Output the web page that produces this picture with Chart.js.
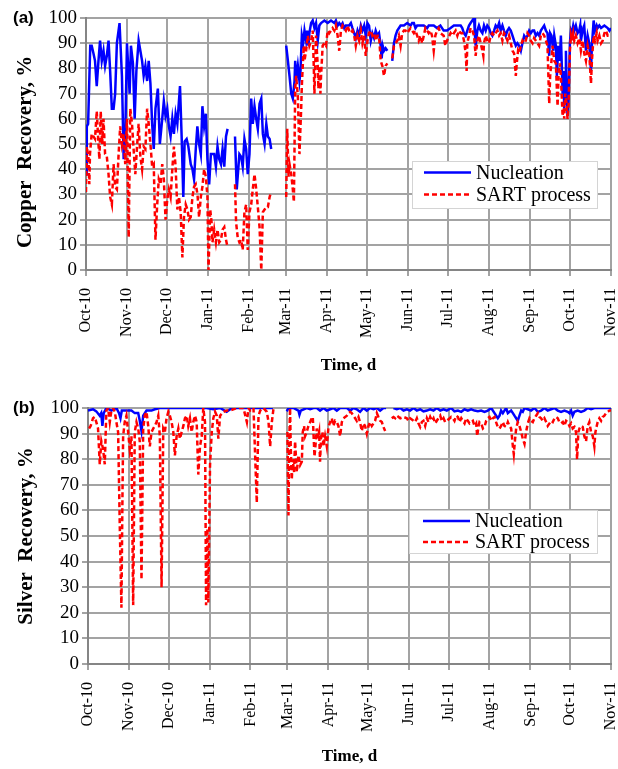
<!DOCTYPE html>
<html>
<head>
<meta charset="utf-8">
<title>Copper and silver recovery</title>
<script src="https://cdn.jsdelivr.net/npm/chart.js@4.4.1/dist/chart.umd.min.js"></script>
<style>
body { margin: 0; background: #fff; width: 618px; height: 769px; position: relative; overflow: hidden; }
.panel { position: absolute; left: 0; width: 618px; }
.tag { position: absolute; left: 13px; font: bold 17px "Liberation Sans", Arial, sans-serif; color: #000; }
</style>
</head>
<body>
<div class="panel" style="top:0;height:385px"><canvas id="chartCu" width="618" height="385"></canvas></div>
<div class="panel" style="top:385px;height:384px"><canvas id="chartAg" width="618" height="384"></canvas></div>
<div class="tag" style="top:8px">(a)</div>
<div class="tag" style="top:398px">(b)</div>
<script>
// month starts, counted in days from 1 Oct 2010
var monthDays = [0, 31, 61, 92, 123, 151, 182, 212, 243, 273, 304, 335, 365, 396];
var monthLabels = ["Oct-10", "Nov-10", "Dec-10", "Jan-11", "Feb-11", "Mar-11", "Apr-11",
	"May-11", "Jun-11", "Jul-11", "Aug-11", "Sep-11", "Oct-11", "Nov-11"];

// (a) copper - nucleation
var cuNucDay = [0, 0.6, 1.6, 3.2, 4.3, 5.6, 6.8, 8.1, 9.4, 10.6, 11.9, 13.2, 14.4, 15.7, 17, 18.2, 19.5, 20.8, 22, 23.3,
	25.3, 27.1, 28.4, 29.6, 30.9, 32.2, 32.9, 33.9, 35.4, 36.7, 38, 39.7, 41, 42.3, 43.5, 44.8, 46.1, 47.3, 48.6, 49.9,
	51.1, 52.4, 54.2, 55.7, 57.5, 58.7, 60, 61.3, 62.5, 63.8, 65.1, 66.3, 67.6, 68.9, 70.9, 72.2, 73.4, 74.4, 75.9, 77.2,
	79, 80.3, 81.5, 82.8, 84, 85.3, 86.6, 87.8, 89.1, 90.4, 91.6, 92.9, 94.2, 95.4, 96.7, 98, 99.2, 100.5, 101.8, 103,
	104.3, 105.6, 106.8, 109, 112.4, 113.7, 115.7, 117, 118.2, 119.5, 120.8, 122, 123.3, 124.6, 125.8, 127.1, 128.4, 129.6, 130.9, 132.2,
	133.4, 134.7, 136, 137.2, 138.5, 139.7, 145, 151, 152.3, 153.5, 154.8, 156, 157.3, 157.8, 158.5, 159.8, 161, 161.8, 162.8, 163.8,
	164.8, 166, 166.8, 167.8, 168.5, 169.8, 171, 172.3, 173.5, 174.8, 176, 177.3, 179.8, 182.3, 184.8, 187.3, 188.5, 189.8, 191, 192.3,
	193.5, 194.8, 196, 197.3, 198.5, 199.8, 201, 202.3, 203.5, 204.8, 206, 207.3, 208.5, 209.8, 211, 212.3, 213.5, 214.8, 216, 217.3,
	218.5, 219.8, 221, 222.3, 223, 223.8, 224.8, 226, 227.3, 229, 231, 232.3, 233.5, 234.8, 237.3, 239.8, 242.3, 244.8, 246, 247.3,
	248.5, 249.8, 252.3, 254.8, 257.3, 258.5, 259.8, 262.3, 264.8, 267.3, 269.8, 272.3, 275, 277.5, 280, 282.6, 283.8, 285.1, 286.4, 287.6,
	288.9, 290.1, 291.4, 292.7, 293.4, 293.9, 295.2, 296.4, 297.7, 299, 300.2, 301.5, 302.7, 304, 305.3, 306.5, 307.8, 309, 310.3, 311.6,
	312.8, 314.1, 315.3, 316.6, 317.9, 319.1, 320.4, 321.7, 322.9, 324.2, 325.4, 326.7, 328, 329.2, 330.5, 331.7, 333, 334.3, 335.5, 336.8,
	338, 339.3, 340.6, 341.8, 343.1, 344.3, 345.6, 346.9, 348.1, 349.4, 350.1, 351.1, 352.4, 353.2, 354.4, 355.2, 356.2, 357.4, 358.2, 359.5,
	360.2, 360.7, 361.5, 362, 362.7, 363.2, 364, 365, 365.8, 366.5, 367.5, 368.3, 369.5, 370.8, 372.1, 372.8, 373.3, 374.6, 375.8, 377.1,
	378.4, 379.6, 380.9, 381.6, 382.9, 383.9, 385.2, 385.9, 387.2, 388.5, 391, 393.5, 394.8, 396];
var cuNucVal = [38, 57, 58, 89, 89, 86, 83, 73, 83, 91, 83, 87, 81, 85, 91, 79, 64, 64, 70, 90,
	98, 77, 44, 53, 90, 77, 70, 89, 82, 60, 79, 91, 87, 83, 77, 81, 75, 83, 74, 58,
	48, 64, 72, 50, 60, 67, 61, 64, 57, 53, 60, 54, 62, 58, 73, 52, 29, 51, 52, 49,
	42, 40, 36, 48, 57, 50, 46, 65, 57, 62, 44, 34, 46, 46, 46, 41, 49, 44, 42, 48,
	41, 53, 56, null, 53, 32, 46, 45, 41, 52, 48, 38, 46, 68, 58, 65, 60, 56, 66, 68,
	54, 50, 58, 53, 52, 48, null, 89, 83, 77, 70, 68, 75, 83, 75, 81, 75, 79, 93, 90,
	95, 91, 95, 89, 94, 98, 99, 96, 98, 91, 97, 98, 99, 98, 99, 98, 99, 97, 98, 97,
	98, 96, 97, 97, 97, 98, 96, 94, 92, 95, 93, 97, 95, 97, 93, 98, 97, 91, 94, 92,
	95, 93, 94, 89, 84, 89, 87, 88, 87, null, 83, 90, 93, 95, 97, 97, 98, 97, 98, 98,
	96, 97, 97, 97, 96, 97, 97, 97, 96, 97, 95, 95, 96, 97, 97, 97, 96, 94, 93, 95,
	97, 98, 99, 100, 93, 89, 95, 97, 95, 94, 97, 95, 97, 96, 94, 93, 95, 97, 96, 98,
	95, 97, 95, 93, 95, 96, 95, 93, 91, 89, 90, 89, 87, 90, 93, 92, 93, 95, 94, 95,
	95, 93, 94, 93, 95, 96, 97, 95, 94, 85, 94, 93, 87, 93, 89, 77, 89, 83, 93, 70,
	79, 64, 77, 87, 70, 61, 68, 90, 95, 94, 97, 95, 97, 94, 95, 97, 91, 95, 97, 87,
	93, 90, 79, 89, 99, 95, 97, 96, 97, 96, 97, 96, 95, 96];

// (a) copper - SART process
var cuSartDay = [0, 0.5, 1.8, 2.5, 3, 4.3, 5.6, 6.8, 8.1, 9.4, 10.1, 11.1, 12.2, 13.2, 14.4, 15.7, 17, 18.2, 19.5, 20.8,
	22, 23.3, 24.6, 25.8, 27.1, 28.4, 29.6, 30.9, 32.2, 33.4, 34.7, 35.9, 37.2, 38.5, 39.7, 41, 42.3, 43.5, 44.8, 46.1,
	47.3, 48.6, 49.9, 51.1, 52.4, 53.7, 54.9, 56.2, 57.5, 58.7, 60, 61.3, 62.5, 63.8, 65.1, 66.3, 67.6, 68.9, 70.1, 71.4,
	72.7, 73.9, 75.2, 76.5, 77.7, 79, 80.3, 81.5, 82.8, 84.1, 85.3, 86.6, 87.8, 89.1, 90.4, 91.6, 92.4, 93.7, 94.7, 95.4,
	96.7, 98, 99.2, 100.5, 101.8, 103, 104.3, 105.6, 106.8, 109, 112.4, 113.2, 114.4, 115.7, 117, 118.2, 119.5, 120.8, 122, 123.3,
	124.6, 125.8, 127.1, 128.4, 129.6, 130.9, 132.2, 133.4, 134.7, 135.9, 137.2, 138.5, 139.7, 145, 151, 151.8, 152.8, 153.5, 154.8, 156,
	156.8, 157.8, 158.5, 159.8, 161, 161.8, 162.3, 162.8, 163.5, 164.3, 164.8, 166, 167.3, 168.5, 169.8, 171, 171.8, 172.3, 173.5, 174.8,
	175.3, 176, 176.8, 177.3, 178.5, 179.8, 181, 182.3, 183.5, 184.8, 186, 187.3, 188.5, 189.8, 191, 192.3, 193.5, 194.8, 196, 197.3,
	198.5, 199.8, 201, 202.3, 203.5, 204.8, 206, 207.3, 208.5, 209.8, 211, 212.3, 213.5, 214.8, 216, 217.3, 218.5, 219.8, 221, 222.3,
	223.5, 224.8, 226, 227.3, 229, 231, 232.3, 233.5, 234.8, 236, 237.3, 238.5, 239.8, 241, 242.3, 243.5, 244.8, 246, 247.3, 248.5,
	249.8, 251, 252.3, 253.5, 254.8, 256, 257.3, 258.5, 259.8, 261, 262.3, 263.5, 264.8, 266, 267.3, 269.8, 271, 272.3, 275, 276.3,
	277.5, 278.8, 280.1, 281.3, 282.6, 283.8, 285.1, 286.4, 287.1, 287.6, 288.9, 290.1, 291.4, 292.7, 293.9, 295.2, 296.4, 297.7, 299, 299.7,
	300.2, 301.5, 302.7, 304, 305.3, 306.5, 307.8, 309, 310.3, 311.6, 312.8, 314.1, 315.3, 316.6, 317.9, 319.1, 320.4, 321.7, 322.9, 324.2,
	324.9, 325.9, 326.7, 328, 329.2, 330.5, 331.7, 333, 334.3, 335.5, 336.8, 338, 339.3, 340.6, 341.8, 343.1, 344.3, 345.6, 346.9, 348.1,
	349.4, 350.1, 351.1, 351.9, 353.2, 354.4, 355.7, 356.4, 357.4, 358.2, 359.5, 360.2, 360.7, 361.5, 362.5, 363.2, 364, 365, 365.8, 366.5,
	367.5, 368.3, 369.5, 370.8, 372.1, 373.3, 374.6, 375.8, 377.1, 378.4, 379.6, 380.9, 381.6, 382.9, 383.9, 385.2, 385.9, 387.2, 388.5, 389.7,
	391, 392.2, 393.5, 394.8, 396];
var cuSartVal = [31, 49, 45, 34, 46, 54, 53, 52, 63, 50, 44, 63, 50, 60, 46, 45, 38, 29, 26, 42,
	33, 32, 46, 57, 50, 54, 42, 60, 13, 64, 58, 48, 38, 49, 58, 45, 40, 49, 48, 64,
	58, 50, 41, 42, 12, 26, 36, 34, 42, 36, 20, 28, 32, 29, 40, 49, 41, 24, 29, 23,
	5, 21, 26, 24, 20, 21, 29, 33, 34, 30, 21, 29, 33, 40, 37, 29, 0, 24, 19, 11,
	16, 11, 16, 11, 12, 16, 17, 12, 9, null, 34, 19, 13, 11, 12, 8, 23, 26, 8, 23,
	26, 32, 38, 32, 25, 17, 0, 23, 24, 25, 25, 29, 31, null, 29, 56, 37, 42, 38, 32,
	27, 72, 77, 69, 46, 57, 64, 73, 81, 89, 83, 87, 93, 89, 91, 95, 81, 70, 93, 81,
	72, 81, 70, 77, 89, 90, 89, 95, 94, 95, 96, 95, 97, 93, 87, 95, 97, 96, 95, 97,
	95, 94, 95, 93, 89, 93, 91, 95, 90, 93, 85, 91, 94, 95, 93, 94, 91, 93, 93, 83,
	81, 77, 81, 82, null, 84, 89, 90, 91, 93, 89, 94, 95, 95, 94, 95, 96, 95, 94, 95,
	93, 91, 93, 90, 93, 96, 95, 94, 95, 93, 87, 93, 95, 96, 94, 93, 89, 91, 94, 93,
	94, 95, 93, 95, 94, 94, 91, 86, 79, 90, 93, 96, 95, 93, 85, 91, 93, 90, 87, 85,
	90, 93, 91, 90, 93, 94, 93, 94, 95, 93, 94, 91, 94, 93, 91, 93, 90, 87, 86, 77,
	82, 87, 86, 89, 91, 90, 91, 94, 93, 91, 90, 92, 91, 90, 89, 93, 94, 93, 91, 89,
	66, 77, 83, 89, 83, 82, 65, 77, 82, 77, 61, 66, 60, 70, 66, 60, 66, 87, 93, 91,
	94, 91, 93, 90, 92, 87, 91, 86, 83, 89, 86, 74, 83, 93, 91, 94, 91, 93, 90, 91,
	94, 95, 93, 93, 93];

// (b) silver - nucleation
var agNucDay = [0, 3.8, 6.3, 8.9, 10, 10.9, 11.9, 13.9, 17.7, 21.5, 23.5, 24.6, 25.6, 29.1, 32.9, 35.4, 38, 39.2, 40.5, 41.8,
	44.3, 48.1, 50.6, 54.4, 59.5, 64.6, 69.6, 74.7, 79.7, 84.8, 89.9, 94.9, 100, 105, 107.6, 110, 115, 120, 125, 130,
	135, 140, 145, 150.5, 151.8, 155.5, 159.3, 160.1, 161.1, 165.6, 168.2, 170.7, 173.2, 175.7, 178.3, 180.8, 183.3, 185.8, 188.4, 190.9,
	193.4, 196, 198.5, 201, 203.5, 206, 208.6, 211.1, 213.6, 216.2, 218.7, 221.2, 223.7, 225.7, 228, 231.3, 233.8, 236.4, 238.9, 241.4,
	243.9, 246.5, 249, 251.5, 254, 256.6, 259.1, 261.6, 264.1, 266.7, 269.2, 271.7, 275, 277.5, 280.1, 282.6, 285.1, 287.6, 290.1, 292.7,
	295.2, 297.7, 300.2, 302.7, 305.3, 307.8, 310.3, 311.6, 312.8, 314.1, 315.3, 316.6, 317.9, 319.1, 320.4, 321.7, 322.9, 324.2, 325.4, 326.7,
	328, 329.2, 330.5, 333, 335.5, 338, 340.6, 343.1, 345.6, 348.1, 350.6, 353.2, 355.7, 358.2, 360.7, 363.2, 364.5, 365.8, 367, 368.3,
	370.8, 373.3, 375.8, 378.4, 380.9, 383.4, 385.9, 388.5, 391, 394.8, 396];
var agNucVal = [99, 99.5, 98.7, 97, 98, 93, 98, 100, 99, 100, 98, 96, 99, 99, 99, 98, 98, 95, 91, 97,
	99, 99, 99.5, 100, 100, 100, 100, 100, 100, 100, 100, 99.5, 100, 98.5, 99.5, 100, 100, 100, 100, 100,
	100, 100, null, 98.7, 100, 100, 99, 97.4, 99, 100, 99.5, 100, 100, 99, 100, 99, 99.5, 100, 99, 100,
	100, 100, 99, 100, 99.5, 98.5, 100, 99, 100, 99.5, 100, 99, 100, 100, null, 100, 99.5, 100, 99, 99.5,
	99, 100, 99, 99.5, 98.7, 99, 99.5, 99, 100, 99, 99.5, 99, 100, 98.7, 99, 98.5, 99.5, 99, 99.5, 99,
	98.7, 99, 98.5, 99, 100, 98, 96, 97, 99, 98, 99, 100, 98, 98.5, 99, 98, 97, 96, 95, 97,
	99, 98.5, 100, 99.5, 99, 100, 98.5, 99, 100, 99, 99.5, 100, 99, 98.5, 99, 98.5, 98, 99, 97, 98.5,
	99, 98.5, 99, 100, 99.5, 100, 100, 100, 100, 100, 100];

// (b) silver - SART process
var agSartDay = [0.8, 2, 3.8, 5.1, 6.3, 7.6, 8.9, 10.1, 11.4, 12.7, 13.9, 15.2, 16.5, 17.7, 19, 20.3, 21.5, 22.8, 24.1, 25.3,
	26.1, 26.6, 27.8, 29.1, 30.4, 31.6, 32.9, 34.2, 35.4, 36.7, 38, 39.2, 40.5, 41.8, 43, 44.3, 45.6, 46.8, 48.1, 49.4,
	50.6, 51.9, 53.2, 54.4, 55.7, 57, 58.2, 59.5, 60.8, 62, 63.3, 64.6, 65.8, 67.1, 68.4, 69.6, 70.9, 72.2, 73.4, 74.7,
	75.9, 77.2, 78.5, 79.7, 81, 82.3, 83.5, 84.8, 86.1, 87.3, 88.6, 89.4, 90.4, 91.1, 92.4, 93.7, 94.9, 96.2, 97.5, 98.7,
	100, 102.5, 105, 107.6, 112.7, 115.2, 117.7, 120.3, 121.5, 122.8, 125.3, 127.8, 129.1, 130.4, 132.9, 135.4, 136.7, 137.9, 139.2, 140.5,
	145, 151, 151.8, 152.3, 153, 153.5, 154.3, 155, 156, 156.8, 158.1, 159.3, 160.6, 161.9, 162.6, 163.6, 164.4, 165.6, 166.9, 168.2,
	169.4, 170.2, 170.7, 171.5, 172.5, 173.2, 174, 175, 175.7, 176.5, 177.5, 178.3, 179.5, 180.8, 182.1, 183.3, 184.6, 185.8, 187.1, 188.4,
	189.6, 190.9, 192.2, 193.4, 194.7, 196, 197.2, 198.5, 199.7, 201, 202.3, 203.5, 204.8, 206, 207.3, 208.6, 209.8, 211.1, 212.4, 213.6,
	214.9, 216.2, 217.4, 218.7, 219.9, 221.2, 222.5, 223.7, 225, 227.5, 230, 231.3, 232.6, 233.8, 236.4, 238.9, 241.4, 242.7, 243.9, 246.5,
	247.7, 249, 250.2, 251.5, 252.8, 254, 255.3, 256.6, 257.8, 259.1, 260.4, 261.6, 262.9, 264.1, 265.4, 266.7, 267.9, 269.2, 270.4, 271.7,
	275, 276.3, 277.5, 278.8, 280.1, 281.3, 282.6, 283.8, 285.1, 286.4, 287.6, 288.9, 290.1, 291.4, 292.7, 293.9, 294.7, 295.7, 296.4, 297.7,
	299, 300.2, 301.5, 302.7, 304, 305.3, 306.5, 307.8, 309, 310.3, 311.6, 312.8, 314.1, 315.3, 316.6, 317.9, 319.1, 320.4, 321.7, 322.4,
	323.4, 324.2, 325.4, 326.7, 328, 329.2, 330.5, 331.7, 333, 334.3, 335.5, 336.8, 338, 339.3, 340.6, 341.8, 343.1, 344.3, 345.6, 346.9,
	348.1, 349.4, 350.6, 351.9, 353.2, 354.4, 355.7, 356.9, 358.2, 359.5, 360.7, 362, 363.2, 364.5, 365.8, 367, 368.3, 369.5, 370.3, 371.3,
	372.1, 373.3, 374.6, 375.8, 377.1, 378.4, 379.6, 380.9, 382.2, 383.4, 384.2, 385.2, 385.9, 387.2, 388.5, 389.7, 391, 392.2, 393.5, 394.8,
	396];
var agSartVal = [92, 93, 96, 96.5, 94.5, 92, 78, 87, 84, 78, 99, 100, 94.5, 99, 100, 98.5, 94.5, 90.6, 53, 22,
	66, 89, 94.5, 97, 90.6, 84, 89, 23, 90.6, 94.5, 92, 87, 33, 92, 97, 98.5, 93, 85, 90.6, 92,
	93, 94.5, 97, 89, 30, 92, 90.6, 96, 98.5, 97, 94.5, 90.6, 81.5, 89, 92, 88, 90.6, 93, 96, 97,
	93, 96, 90.6, 94.5, 97, 94.5, 74, 85, 89, 100, 94.5, 23, 53, 24, 77.7, 90.6, 96, 98.5, 97, 88,
	97, 98.5, 99, 99, 100, 100, 100, 94.5, 100, 99, 100, 63, 97, 99, 100, 98.5, 94.5, 85, 94.5, 100,
	null, 90.6, 58, 85, 100, 85, 72, 80, 75, 87, 75, 81.5, 77.7, 79, 90.6, 93, 89, 90.6, 93, 94.5,
	96, 96.5, 90.6, 81, 87, 92, 88, 90.6, 79, 89, 90.6, 85, 89, 85, 92.6, 94.5, 96, 93, 95, 94.5,
	93, 89, 94.5, 96, 96.5, 97, 98, 98.5, 98, 97, 96, 95, 96.5, 94.5, 91, 94, 93, 90, 93, 94.5,
	93, 94, 95, 98, 96.5, 95, 94.5, 92.6, 91, null, 96, 96.5, 96, 97, 96, 96.5, 96, 95, 96, 95,
	94.5, 96, 94, 92.6, 94.5, 95, 93, 96, 94.5, 96.5, 95, 96, 94, 95, 96, 97, 95, 96, 94.5, 95,
	96.5, 96, 95, 97, 96.5, 94.5, 96, 95, 94, 96, 95, 94, 94.5, 95, 93, 94, 89, 93, 94.5, 94,
	92, 92.6, 95, 96, 96.5, 95, 96, 96.5, 94.5, 92.6, 92, 93, 94.5, 93, 92.6, 94.5, 93, 92, 85, 82,
	88, 92, 94.5, 93, 90.6, 88, 86, 90.6, 94, 96, 95, 94.5, 96, 97, 98, 96.5, 96, 95, 96, 94.5,
	93, 94, 95, 94.5, 96, 96.5, 96, 94.5, 94, 94.5, 93, 95, 94.5, 93, 94, 92, 92.6, 90.6, 80, 90.6,
	92, 93, 92.6, 89, 87, 93, 94.5, 90.6, 89, 85, 90.6, 93, 94.5, 96, 95, 96.5, 97, 98, 98.5, 99,
	99];

function pts(days, vals) {
	return days.map(function(d, i) {
		return { x: d, y: vals[i] };
	});
}

// legend box drawn inside the plot area
var insideLegend = {
	id: "insideLegend",
	afterDraw: function(chart, args, opts) {
		var ctx = chart.ctx;
		ctx.save();
		ctx.fillStyle = "#fff";
		ctx.fillRect(opts.x, opts.y, opts.w, opts.h);
		ctx.strokeStyle = "#d4d4d4";
		ctx.lineWidth = 1;
		ctx.strokeRect(opts.x + 0.5, opts.y + 0.5, opts.w, opts.h);
		ctx.font = "20px 'Liberation Serif', serif";
		ctx.textBaseline = "middle";
		chart.data.datasets.forEach(function(ds, i) {
			var rowY = opts.rows[i];
			ctx.strokeStyle = ds.borderColor;
			ctx.lineWidth = ds.borderWidth;
			ctx.setLineDash(ds.borderDash || []);
			ctx.beginPath();
			ctx.moveTo(opts.lineX, rowY);
			ctx.lineTo(opts.lineX + 47, rowY);
			ctx.stroke();
			ctx.setLineDash([]);
			ctx.fillStyle = "#000";
			ctx.fillText(ds.label, opts.lineX + 52, rowY + 1);
		});
		ctx.restore();
	}
};

var serif = "'Liberation Serif', 'Times New Roman', serif";

function makeOptions(cfg) {
	return {
		responsive: false,
		animation: false,
		devicePixelRatio: 1,
		layout: { padding: { top: cfg.top, right: 7, left: 0, bottom: 0 } },
		elements: { point: { radius: 0 }, line: { tension: 0 } },
		plugins: {
			legend: { display: false },
			tooltip: { enabled: false },
			insideLegend: cfg.legend
		},
		scales: {
			x: {
				type: "linear",
				min: 0,
				max: 396,
				afterBuildTicks: function(s) {
					s.ticks = monthDays.map(function(d) { return { value: d }; });
				},
				afterFit: function(s) {
					s.height = cfg.xHeight;
					s.paddingLeft = 0;
					s.paddingRight = 0;
				},
				ticks: {
					autoSkip: false,
					minRotation: 90,
					maxRotation: 90,
					padding: 12,
					color: "#000",
					font: { family: serif, size: 16 },
					callback: function(v, i) { return monthLabels[i]; }
				},
				grid: { color: "#a3a3a3", lineWidth: 2, tickLength: 6 },
				border: { color: "#858585", width: 2 },
				title: {
					display: true,
					text: "Time, d",
					color: "#000",
					font: { family: serif, size: 17, weight: "bold" },
					padding: { top: 0, bottom: cfg.xTitlePad }
				}
			},
			y: {
				min: 0,
				max: 100,
				afterFit: function(s) {
					s.width = cfg.yWidth;
					s.paddingTop = 0;
					s.paddingBottom = 0;
				},
				ticks: {
					stepSize: 10,
					autoSkip: false,
					padding: 3,
					color: "#000",
					font: { family: serif, size: 19 }
				},
				grid: { color: "#a3a3a3", lineWidth: 2, tickLength: 6 },
				border: { color: "#858585", width: 2 },
				title: {
					display: true,
					text: cfg.yTitle,
					color: "#000",
					font: { family: serif, size: 21, weight: "bold" },
					padding: { top: cfg.yTitlePad, bottom: 0 }
				}
			}
		}
	};
}

function makeDatasets(nucDays, nucVals, sartDays, sartVals) {
	return [
		{
			label: "Nucleation",
			data: pts(nucDays, nucVals),
			borderColor: "#0000ff",
			borderWidth: 2.5,
			fill: false,
			spanGaps: false,
			order: 1
		},
		{
			label: "SART process",
			data: pts(sartDays, sartVals),
			borderColor: "#ff0000",
			borderWidth: 2.5,
			borderDash: [5, 3],
			fill: false,
			spanGaps: false,
			order: 0
		}
	];
}

var chartCu = new Chart(document.getElementById("chartCu").getContext("2d"), {
	type: "line",
	data: { datasets: makeDatasets(cuNucDay, cuNucVal, cuSartDay, cuSartVal) },
	options: makeOptions({
		top: 18, yWidth: 86, xHeight: 115, xTitlePad: 9, yTitlePad: 13,
		yTitle: "Copper  Recovery, %   ",
		legend: { x: 412, y: 161, w: 185, h: 47, lineX: 424, rows: [172.5, 194.5] }
	}),
	plugins: [insideLegend]
});

var chartAg = new Chart(document.getElementById("chartAg").getContext("2d"), {
	type: "line",
	data: { datasets: makeDatasets(agNucDay, agNucVal, agSartDay, agSartVal) },
	options: makeOptions({
		top: 23, yWidth: 88, xHeight: 105, xTitlePad: 2, yTitlePad: 14,
		yTitle: "Silver  Recovery, %",
		legend: { x: 409, y: 125, w: 188, h: 43, lineX: 423, rows: [136, 157] }
	}),
	plugins: [insideLegend]
});
</script>
</body>
</html>
